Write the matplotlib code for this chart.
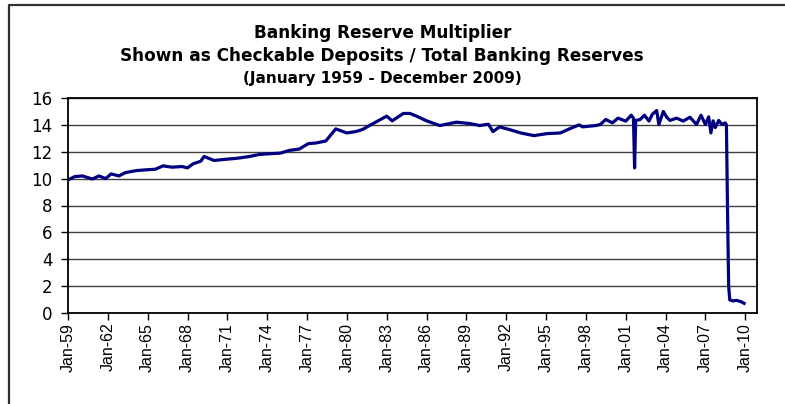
import numpy as np
import pandas as pd
import matplotlib
matplotlib.use("Agg")
import matplotlib.pyplot as plt
from matplotlib.lines import Line2D

plt.rcParams["font.family"] = ["DejaVu Sans"]

# readings (month, multiplier)
months = [
    "1959-01", "1959-07", "1960-02", "1960-11", "1961-05", "1961-11", "1962-04", "1962-11",
    "1963-05", "1964-03", "1964-11", "1965-08", "1966-03", "1966-11", "1967-08", "1968-01",
    "1968-06", "1969-01", "1969-04", "1970-01", "1970-09", "1971-08", "1972-01", "1972-09",
    "1973-06", "1974-03", "1975-01", "1975-09", "1976-06", "1977-02", "1977-09", "1978-06",
    "1979-03", "1980-01", "1980-09", "1981-03", "1982-03", "1983-01", "1983-06", "1984-04",
    "1984-10", "1985-04", "1986-01", "1987-01", "1988-04", "1989-04", "1990-01", "1990-09",
    "1991-01", "1991-07", "1992-04", "1993-02", "1994-02", "1995-02", "1996-02", "1996-10",
    "1997-07", "1997-10", "1998-10", "1999-02", "1999-07", "2000-01", "2000-06", "2001-01",
    "2001-06", "2001-08", "2001-09", "2001-10", "2002-02", "2002-06", "2002-10", "2003-01",
    "2003-05", "2003-07", "2003-11", "2004-02", "2004-05", "2004-11", "2005-05", "2005-11",
    "2006-05", "2006-09", "2007-01", "2007-04", "2007-06", "2007-08", "2007-10", "2008-01",
    "2008-04", "2008-07", "2008-08", "2008-09", "2008-10", "2008-11", "2009-02", "2009-05",
    "2009-09", "2009-12",
]
multiplier = [
    9.9, 10.15, 10.2, 9.97, 10.2, 10.0, 10.35, 10.2,
    10.45, 10.6, 10.65, 10.7, 10.95, 10.85, 10.9, 10.8,
    11.1, 11.3, 11.65, 11.35, 11.42, 11.5, 11.55, 11.65,
    11.8, 11.85, 11.9, 12.1, 12.2, 12.6, 12.65, 12.8,
    13.7, 13.4, 13.5, 13.65, 14.2, 14.65, 14.3, 14.85,
    14.85, 14.65, 14.3, 13.95, 14.2, 14.1, 13.95, 14.05,
    13.5, 13.85, 13.65, 13.4, 13.2, 13.35, 13.4, 13.7,
    14.0, 13.85, 13.95, 14.03, 14.4, 14.15, 14.5, 14.28,
    14.72, 14.5, 10.8, 14.33, 14.4, 14.72, 14.28, 14.78,
    15.07, 14.03, 15.0, 14.57, 14.33, 14.5, 14.28, 14.57,
    14.03, 14.72, 14.03, 14.6, 13.4, 14.3, 13.8, 14.33,
    14.03, 14.15, 14.0, 7.5, 2.0, 0.97, 0.9, 0.94,
    0.85, 0.72,
]
tick_years = list(range(1959, 2011, 3))
tick_labels = [f"Jan-{y % 100:02d}" for y in tick_years]

dates = pd.to_datetime(months, format="%Y-%m")

fig = plt.figure(figsize=(7.85, 4.04), dpi=100)
ax = fig.add_axes([68 / 785, 1 - 313 / 404, (757 - 68) / 785, (313 - 98) / 404])

ax.plot(dates, multiplier, color="#000080", lw=2.3, solid_joinstyle="round")

ax.set_ylim(0, 16)
ax.set_yticks(range(0, 17, 2))
ax.yaxis.grid(True, color="#404040", lw=1)
ax.set_axisbelow(True)

ax.set_xlim(pd.Timestamp("1959-01-01"), pd.Timestamp("2010-11-20"))
ax.set_xticks([pd.Timestamp(f"{y}-01-01") for y in tick_years])
ax.set_xticklabels(tick_labels, rotation=90, family="Liberation Sans", fontsize=11.5)

ax.tick_params(axis="both", direction="out", length=5, width=1, colors="black")
ax.tick_params(axis="y", labelsize=12, pad=6)
ax.tick_params(axis="x", pad=2)
for s in ax.spines.values():
    s.set_linewidth(1.3)
    s.set_color("black")

fig.text(0.487, 1 - 33 / 404, "Banking Reserve Multiplier", ha="center", va="center",
         fontsize=12.2, fontweight="bold")
fig.text(0.487, 1 - 56 / 404, "Shown as Checkable Deposits / Total Banking Reserves",
         ha="center", va="center", fontsize=12.2, fontweight="bold")
fig.text(0.487, 1 - 78 / 404, "(January 1959 - December 2009)", ha="center", va="center",
         fontsize=11, fontweight="bold")

# page frame on top and left
fig.add_artist(Line2D([9 / 785, 9 / 785, 0.999], [0.0, 1 - 5 / 404, 1 - 5 / 404],
                      transform=fig.transFigure, color="#303030", lw=1.6))

fig.savefig("out.png", dpi=100)
